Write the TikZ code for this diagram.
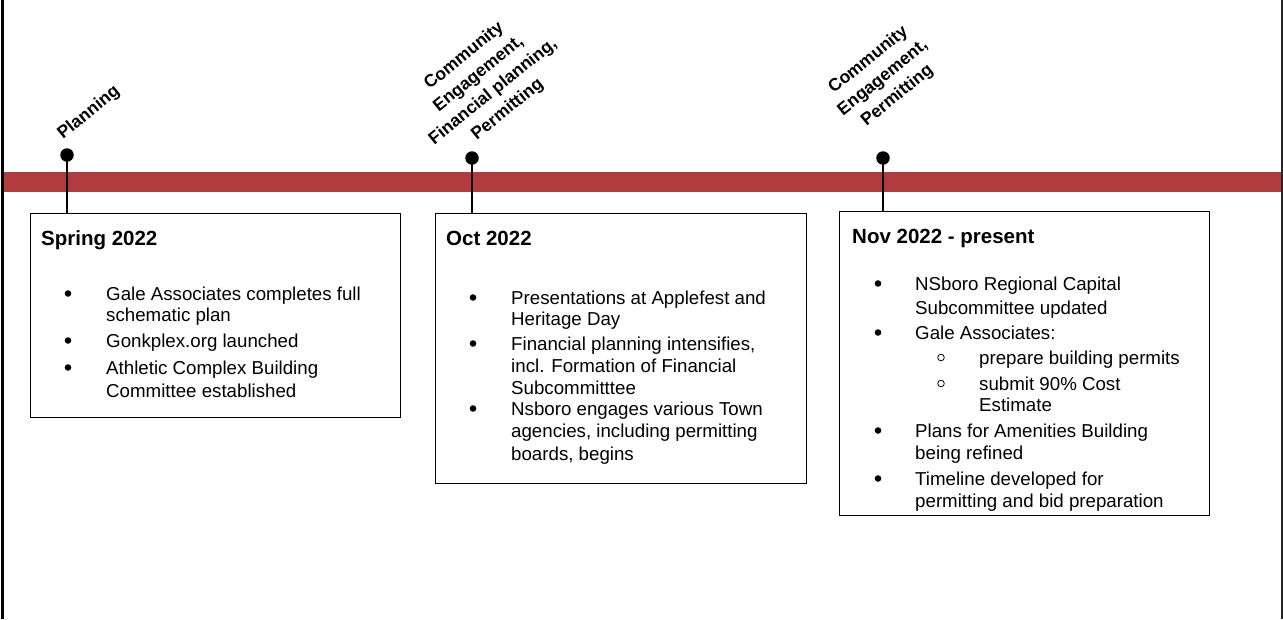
\documentclass[tikz,border=0pt]{standalone}
\usepackage{fontspec}
\setmainfont{Liberation Sans}
\definecolor{bandred}{RGB}{177,60,61}
\begin{document}
\begin{tikzpicture}[x=1pt,y=-1pt,
  box/.style={draw=black, line width=1.3pt, fill=white, inner sep=0pt, anchor=north west},
  dot/.style={circle, fill=black, inner sep=0pt, minimum size=13.5pt},
  stem/.style={draw=black, line width=1.2pt},
  lab/.style={align=center, inner sep=0pt, font=\fontsize{17.5}{23}\selectfont\bfseries},
  ttl/.style={inner sep=0pt, anchor=base west, font=\fontsize{20.5}{24}\selectfont\bfseries},
  txt/.style={inner sep=0pt, anchor=base west, font=\fontsize{18.7}{22}\selectfont},
  bul/.style={circle, fill=black, inner sep=0pt, minimum size=6.6pt},
  hbul/.style={circle, draw=black, line width=0.8pt, inner sep=0pt, minimum size=6.6pt}]
\useasboundingbox (0,0) rectangle (1283,619);
\fill[white] (0,0) rectangle (1283,619);
% frame
\coordinate (fl1) at (2.5,0); \coordinate (fl2) at (2.5,619);
\coordinate (fr1) at (1281.8,0); \coordinate (fr2) at (1281.8,619);
\draw[line width=2.5pt] (fl1) -- (fl2);
\draw[line width=2pt, black!85] (fr1) -- (fr2);
% band
\fill[bandred] (3.7,172) rectangle (1280.8,192);
% boxes
\node[box, minimum width=370pt, minimum height=204pt] (box1) at (30,213) {};
\node[box, minimum width=371pt, minimum height=270pt] (box2) at (435,213) {};
\node[box, minimum width=370pt, minimum height=304pt] (box3) at (839,211) {};
% dots and stems
\node[dot] (d1) at (67,155) {};
\node[dot] (d2) at (472,158) {};
\node[dot] (d3) at (883,158) {};
\draw[stem] (d1.center) -- (d1 |- box1.north);
\draw[stem] (d2.center) -- (d2 |- box2.north);
\draw[stem] (d3.center) -- (d3 |- box3.north);
% rotated labels
\node[lab, rotate=39] (l1) at (89,113) {Planning};
\node[lab, rotate=39] (l2) at (486,83) {Community\\Engagement,\\Financial planning,\\Permitting};
\node[lab, rotate=39] (l3) at (883,78) {Community\\Engagement,\\Permitting};
% box 1
\node[ttl] (t1) at (41,245) {Spring 2022};
\node[txt] (a1) at (106,300) {Gale Associates completes full};
\node[txt] (a2) at (106,321) {schematic plan};
\node[txt] (a3) at (106,347) {Gonkplex.org launched};
\node[txt] (a4) at (106,374) {Athletic Complex Building};
\node[txt] (a5) at (106,397) {Committee established};
\node[bul] (ab1) at (68,293.5) {};
\node[bul] (ab2) at (68,340.5) {};
\node[bul] (ab3) at (68,367.5) {};
% box 2
\node[ttl] (t2) at (446,245) {Oct 2022};
\node[txt] (b1) at (511,304) {Presentations at Applefest and};
\node[txt] (b2) at (511,325) {Heritage Day};
\node[txt] (b3) at (511,350) {Financial planning intensifies,};
\node[txt] (b4) at (511,372) {incl. Formation of Financial};
\node[txt] (b5) at (511,394) {Subcommitttee};
\node[txt] (b6) at (511,415) {Nsboro engages various Town};
\node[txt] (b7) at (511,437) {agencies, including permitting};
\node[txt] (b8) at (511,460) {boards, begins};
\node[bul] (bb1) at (473,297.5) {};
\node[bul] (bb2) at (473,343.5) {};
\node[bul] (bb3) at (473,408.5) {};
% box 3
\node[ttl] (t3) at (852,243) {Nov 2022 - present};
\node[txt] (c1) at (915,290) {NSboro Regional Capital};
\node[txt] (c2) at (915,314) {Subcommittee updated};
\node[txt] (c3) at (915,339) {Gale Associates:};
\node[txt] (c4) at (979,364) {prepare building permits};
\node[txt] (c5) at (979,390) {submit 90\% Cost};
\node[txt] (c6) at (979,411) {Estimate};
\node[txt] (c7) at (915,437) {Plans for Amenities Building};
\node[txt] (c8) at (915,459) {being refined};
\node[txt] (c9) at (915,485) {Timeline developed for};
\node[txt] (c10) at (915,507) {permitting and bid preparation};
\node[bul] (cb1) at (878,283.5) {};
\node[bul] (cb2) at (878,332.5) {};
\node[hbul] (cb3) at (941,357.5) {};
\node[hbul] (cb4) at (941,383.5) {};
\node[bul] (cb5) at (878,430.5) {};
\node[bul] (cb6) at (878,478.5) {};
\end{tikzpicture}
\end{document}
